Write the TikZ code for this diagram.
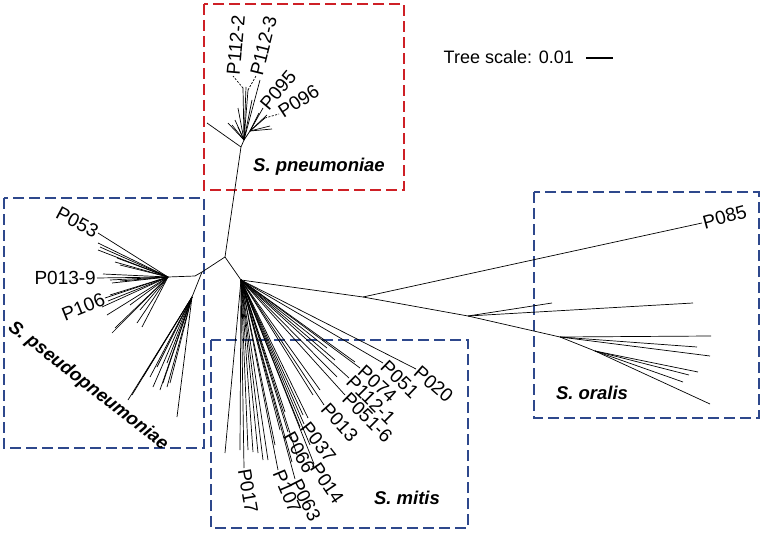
\documentclass[tikz,border=0pt]{standalone}
\usepackage{fontspec}
\setmainfont{Liberation Sans}
\usetikzlibrary{positioning}
\definecolor{cladered}{RGB}{206,32,38}
\definecolor{cladeblue}{RGB}{46,72,140}

\begin{document}
\begin{tikzpicture}[
    x=1pt, y=-1pt,
    branch/.style={line width=0.7pt},
    lead/.style={line width=0.7pt, dash pattern=on 2pt off 1.5pt},
    clade/.style={line width=2.8pt, dash pattern=on 11pt off 5pt},
    tip/.style={font=\fontsize{19}{21}\selectfont, inner sep=1pt, anchor=west},
    species/.style={font=\fontsize{18.5}{20}\selectfont\bfseries\itshape, inner sep=0pt}
  ]
    \useasboundingbox (0,0) rectangle (764,535);

    \draw[clade, cladered] (204,4) rectangle (404,190);
    \draw[clade, cladeblue] (4,198) rectangle (204,448);
    \draw[clade, cladeblue] (211,340) rectangle (468,528);
    \draw[clade, cladeblue] (534,192) rectangle (759,418);

    \node[species] (pneu) at (319,167) {S. pneumoniae};
    \node[species, rotate=-38] (pseudo) at (88,386) {S. pseudopneumoniae};
    \node[species] (mitis) at (407,498) {S. mitis};
    \node[species] (oralis) at (592,393) {S. oralis};

    \node[font=\fontsize{18}{20}\selectfont, anchor=east, inner sep=0pt] (scale) at (574,57) {Tree scale: 0.01};
    \coordinate (sbl) at (586,58);
    \coordinate (sbr) at (613,58);
    \draw[line width=2.5pt] (sbl) -- (sbr);

    \coordinate (root) at (225,257);
    \coordinate (pn) at (241,147);
    \coordinate (pnup) at (244,140);
    \coordinate (pnr) at (250,131);
    \coordinate (pnl) at (207,123);
    \draw[branch] (root) -- (pn) -- (pnup) -- (pnr);
    \draw[branch] (pn) -- (pnl);
    \foreach \x/\y [count=\i] in {243/88, 246/87, 248/90, 260/80, 252/100, 238/108, 228/123, 232/125, 235/120, 238/127}
      {\coordinate (pu\i) at (\x,\y); \draw[branch] (pnup) -- (pu\i);}
    \foreach \x/\y [count=\i] in {263/108, 265/118, 270/126, 272/129, 267/115, 259/113}
      {\coordinate (pr\i) at (\x,\y); \draw[branch] (pnr) -- (pr\i);}

    \coordinate (lbA) at (233,76);
    \coordinate (lbB) at (256,76);
    \coordinate (lbC) at (279,114);
    \draw[lead] (pu1) -- (lbA);
    \draw[lead] (pu3) -- (lbB);
    \draw[lead] (pr2) -- (lbC);
    \node[tip, rotate=85] (p1122) at (lbA) {P112-2};
    \node[tip, rotate=76] (p1123) at (lbB) {P112-3};
    \node[tip, rotate=50] (p095) at (pr1) {P095};
    \node[tip, rotate=33] (p096) at (lbC) {P096};

    \coordinate (ps) at (202,272);
    \coordinate (psb) at (195,276);
    \coordinate (psc) at (168,277);
    \coordinate (psd) at (192,297);
    \draw[branch] (root) -- (ps) -- (psb) -- (psc);
    \draw[branch] (ps) -- (psd);
    \foreach \x/\y [count=\i] in {98/233, 97/278, 105/298, 98/243, 100/247, 98/250, 117/258, 115/262, 120/265,
        103/274, 110/280, 112/283, 120/281, 110/295, 108/301, 102/307, 107/315, 115/328, 112/333, 137/323, 142/327, 140/310, 130/305}
      {\coordinate (pc\i) at (\x,\y); \draw[branch] (psc) -- (pc\i);}
    \foreach \x/\y [count=\i] in {128/400, 132/395, 143/377, 150/377, 153/387, 160/390, 163/383, 167/387, 170/383, 177/417, 167/363, 157/367}
      {\coordinate (pd\i) at (\x,\y); \draw[branch] (psd) -- (pd\i);}
    \node[tip, anchor=east, rotate=-28] (p053) at (pc1) {P053};
    \node[tip, anchor=east] (p0139) at (pc2) {P013-9};
    \node[tip, anchor=east, rotate=22] (p106) at (pc3) {P106};

    \coordinate (mh) at (241,280);
    \draw[branch] (root) -- (mh);
    \foreach \x/\y/\a/\t [count=\i] in {416/369/-41/P020, 383/363/-44/P051, 360/368/-42/P074, 349/378/-45/P112-1,
        345/395/-45/P051-6, 324/405/-48/P013, 304/424/-52/P037, 314/464/-56/P014, 288/432/-61/P066,
        295/479/-63/P063, 278/470/-67/P107, 244/468/-80/P017}
      {\coordinate (ml\i) at (\x,\y); \draw[branch] (mh) -- (ml\i);
       \node[tip, rotate=\a] (mt\i) at (ml\i) {\t};}
    \foreach \x/\y [count=\i] in {327/348, 337/377, 303/415, 308/418, 300/427, 285/412, 280/430, 268/460, 263/460, 258/453,
        253/452, 248/450, 240/450, 225/453, 297/455, 310/445, 292/462, 275/445, 320/390, 335/360, 313/395, 355/362}
      {\coordinate (mu\i) at (\x,\y); \draw[branch] (mh) -- (mu\i);}

    \coordinate (o1) at (363,297);
    \coordinate (o2) at (468,316);
    \coordinate (o3) at (560,337);
    \coordinate (o4) at (595,351);
    \coordinate (p085tip) at (702,223);
    \draw[branch] (mh) -- (o1) -- (o2) -- (o3) -- (o4);
    \draw[branch] (o1) -- (p085tip);
    \node[tip, rotate=15] (p085) at (p085tip) {P085};
    \foreach \x/\y [count=\i] in {552/303, 693/303}
      {\coordinate (oa\i) at (\x,\y); \draw[branch] (o2) -- (oa\i);}
    \foreach \x/\y [count=\i] in {711/336, 697/347, 710/356}
      {\coordinate (ob\i) at (\x,\y); \draw[branch] (o3) -- (ob\i);}
    \foreach \x/\y [count=\i] in {698/372, 689/375, 683/382, 710/404}
      {\coordinate (oc\i) at (\x,\y); \draw[branch] (o4) -- (oc\i);}
  \end{tikzpicture}
\end{document}
